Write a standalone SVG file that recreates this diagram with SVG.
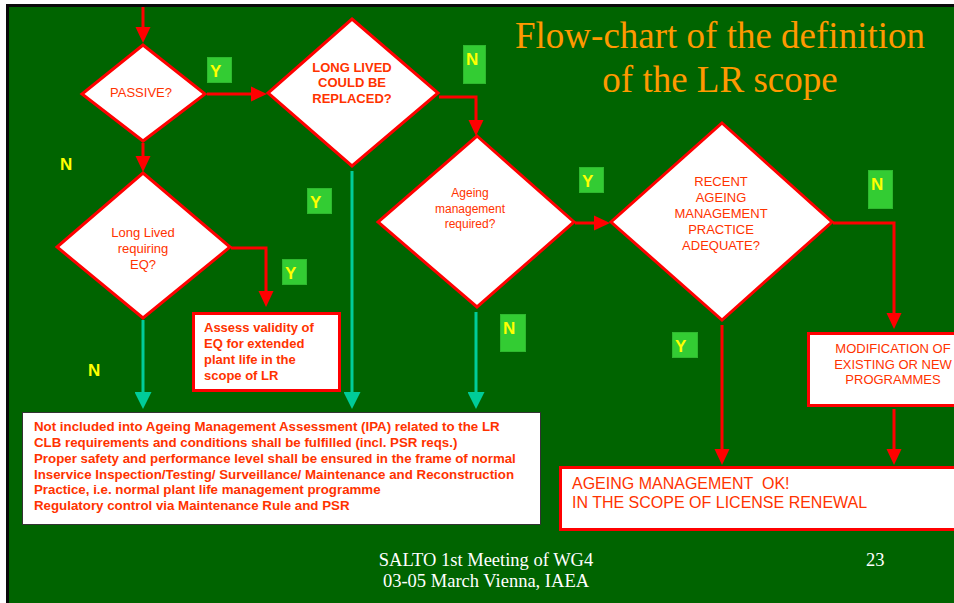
<svg xmlns="http://www.w3.org/2000/svg" width="954" height="603" viewBox="0 0 954 603">
  <style>
    .dia { fill: #ffffff; stroke: #ff0000; stroke-width: 3; stroke-linejoin: miter; }
    .box { fill: #ffffff; stroke: #ff0000; stroke-width: 3; }
    .red { fill: none; stroke: #ff0000; stroke-width: 3; }
    .teal { fill: none; stroke: #00cc99; stroke-width: 3; }
    .t { font-family: "Liberation Sans", Arial, sans-serif; font-size: 13px; fill: #ff3300; }
    .b { font-weight: bold; }
    .mid { text-anchor: middle; }
    .note { font-size: 13.3px; }
    .tag { fill: #33cc33; stroke: #2eb82e; stroke-width: 1; }
    .yn { font-family: "Liberation Sans", Arial, sans-serif; font-size: 17px; font-weight: bold; fill: #ffff00; }
    .title { font-family: "Liberation Serif", "Times New Roman", serif; font-size: 37px; fill: #ff9900; text-anchor: middle; }
    .foot { font-family: "Liberation Serif", "Times New Roman", serif; font-size: 18.5px; fill: #ffffff; }
  </style>
  <defs>
    <marker id="ah-red" viewBox="0 0 16 16" refX="1" refY="8" markerWidth="16" markerHeight="16" markerUnits="userSpaceOnUse" orient="auto">
      <path d="M0,0.5 L16,8 L0,15.5 Z" fill="#ff0000"/>
    </marker>
    <marker id="ah-teal" viewBox="0 0 17 17" refX="1" refY="8.5" markerWidth="17" markerHeight="17" markerUnits="userSpaceOnUse" orient="auto">
      <path d="M0,0 L17,8.5 L0,17 Z" fill="#00cc99"/>
    </marker>
  </defs>

  <!-- slide frame -->
  <rect x="0" y="0" width="954" height="603" fill="#ffffff"/>
  <rect x="6" y="4" width="948" height="599" fill="#0a0a0a"/>
  <rect x="9" y="7" width="945" height="596" fill="#006400"/>

  <!-- title -->
  <g id="title">
    <text class="title" x="720" y="48">Flow-chart of the definition</text>
    <text class="title" x="720" y="92">of the LR scope</text>
  </g>

  <!-- connectors -->
  <g id="connectors">
    <path class="red" d="M143,7 V28" marker-end="url(#ah-red)"/>
    <path class="red" d="M207,94 H252" marker-end="url(#ah-red)"/>
    <path class="red" d="M439,97 H476 V121" marker-end="url(#ah-red)"/>
    <path class="red" d="M143,143 V157" marker-end="url(#ah-red)"/>
    <path class="red" d="M231,248 H266 V292" marker-end="url(#ah-red)"/>
    <path class="teal" d="M143,320 V393" marker-end="url(#ah-teal)"/>
    <path class="teal" d="M352,171 V393" marker-end="url(#ah-teal)"/>
    <path class="teal" d="M476,312 V393" marker-end="url(#ah-teal)"/>
    <path class="red" d="M575,223 H595" marker-end="url(#ah-red)"/>
    <path class="red" d="M833,223 H894 V314" marker-end="url(#ah-red)"/>
    <path class="red" d="M722,325 V450" marker-end="url(#ah-red)"/>
    <path class="red" d="M894,409 V450" marker-end="url(#ah-red)"/>
  </g>

  <!-- decision nodes -->
  <g id="passive">
    <polygon class="dia" points="143,45 205,94 143,141 82,94"/>
    <text class="t mid" x="141" y="97">PASSIVE?</text>
  </g>
  <g id="long-lived-replaced">
    <polygon class="dia" points="352,19 438,93 352,166 268,93"/>
    <text class="t b mid" x="352" y="72">LONG LIVED</text>
    <text class="t b mid" x="352" y="87">COULD BE</text>
    <text class="t b mid" x="352" y="103">REPLACED?</text>
  </g>
  <g id="long-lived-eq">
    <polygon class="dia" points="143,173 230,247 143,318 57,247"/>
    <text class="t mid" x="143" y="237">Long Lived</text>
    <text class="t mid" x="143" y="253">requiring</text>
    <text class="t mid" x="143" y="269">EQ?</text>
  </g>
  <g id="ageing-required">
    <polygon class="dia" points="477,136 574,222 477,307 378,222"/>
    <text class="t mid" x="470" y="197" style="font-size:12px">Ageing</text>
    <text class="t mid" x="470" y="213" style="font-size:12px">management</text>
    <text class="t mid" x="470" y="228" style="font-size:12px">required?</text>
  </g>
  <g id="recent-practice">
    <polygon class="dia" points="722,123 832,222 722,320 611,222"/>
    <text class="t mid" x="721" y="186">RECENT</text>
    <text class="t mid" x="721" y="202">AGEING</text>
    <text class="t mid" x="721" y="218">MANAGEMENT</text>
    <text class="t mid" x="721" y="234">PRACTICE</text>
    <text class="t mid" x="721" y="250">ADEQUATE?</text>
  </g>

  <!-- process boxes -->
  <g id="assess-eq">
    <rect class="box" x="193.5" y="313.5" width="146" height="77"/>
    <text class="t b" x="204" y="332">Assess validity of</text>
    <text class="t b" x="204" y="348">EQ for extended</text>
    <text class="t b" x="204" y="364">plant life in the</text>
    <text class="t b" x="204" y="380">scope of LR</text>
  </g>
  <g id="not-included">
    <rect x="22.5" y="412.5" width="518" height="112" fill="#ffffff" stroke="#333333" stroke-width="1"/>
    <text class="t b note" x="34" y="431">Not included into Ageing Management Assessment (IPA) related to the LR</text>
    <text class="t b note" x="34" y="447">CLB requirements and conditions shall be fulfilled (incl. PSR reqs.)</text>
    <text class="t b note" x="34" y="463">Proper safety and performance level shall be ensured in the frame of normal</text>
    <text class="t b note" x="34" y="479">Inservice Inspection/Testing/ Surveillance/ Maintenance and Reconstruction</text>
    <text class="t b note" x="34" y="494">Practice, i.e. normal plant life management programme</text>
    <text class="t b note" x="34" y="510">Regulatory control via Maintenance Rule and PSR</text>
  </g>
  <g id="modification">
    <rect class="box" x="808.5" y="333.5" width="170" height="72"/>
    <text class="t mid" x="893" y="353">MODIFICATION OF</text>
    <text class="t mid" x="893" y="369">EXISTING OR NEW</text>
    <text class="t mid" x="893" y="384">PROGRAMMES</text>
  </g>
  <g id="ageing-ok">
    <rect class="box" x="560.5" y="467.5" width="420" height="62"/>
    <text class="t" x="572" y="489" style="font-size:16px; white-space:pre" xml:space="preserve">AGEING MANAGEMENT  OK!</text>
    <text class="t" x="572" y="508" style="font-size:16px">IN THE SCOPE OF LICENSE RENEWAL</text>
  </g>

  <!-- branch labels -->
  <g id="labels">
    <rect class="tag" x="207.5" y="57.5" width="24" height="25"/>
    <text class="yn" x="210" y="77">Y</text>
    <rect class="tag" x="463.5" y="45.5" width="22" height="38"/>
    <text class="yn" x="466" y="65">N</text>
    <text class="yn" x="60" y="170">N</text>
    <rect class="tag" x="307.5" y="188.5" width="24" height="25"/>
    <text class="yn" x="310" y="208">Y</text>
    <rect class="tag" x="282.5" y="259.5" width="24" height="25"/>
    <text class="yn" x="285" y="279">Y</text>
    <text class="yn" x="88" y="376">N</text>
    <rect class="tag" x="579.5" y="167.5" width="24" height="25"/>
    <text class="yn" x="582" y="187">Y</text>
    <rect class="tag" x="868.5" y="170.5" width="24" height="38"/>
    <text class="yn" x="871" y="190">N</text>
    <rect class="tag" x="500.5" y="314.5" width="25" height="37"/>
    <text class="yn" x="503" y="334">N</text>
    <rect class="tag" x="672.5" y="332.5" width="25" height="25"/>
    <text class="yn" x="675" y="352">Y</text>
  </g>

  <!-- footer -->
  <g id="footer">
    <text class="foot" x="486" y="566" text-anchor="middle">SALTO 1st Meeting of WG4</text>
    <text class="foot" x="486" y="587" text-anchor="middle">03-05 March Vienna, IAEA</text>
    <text class="foot" x="866" y="566">23</text>
  </g>
</svg>
